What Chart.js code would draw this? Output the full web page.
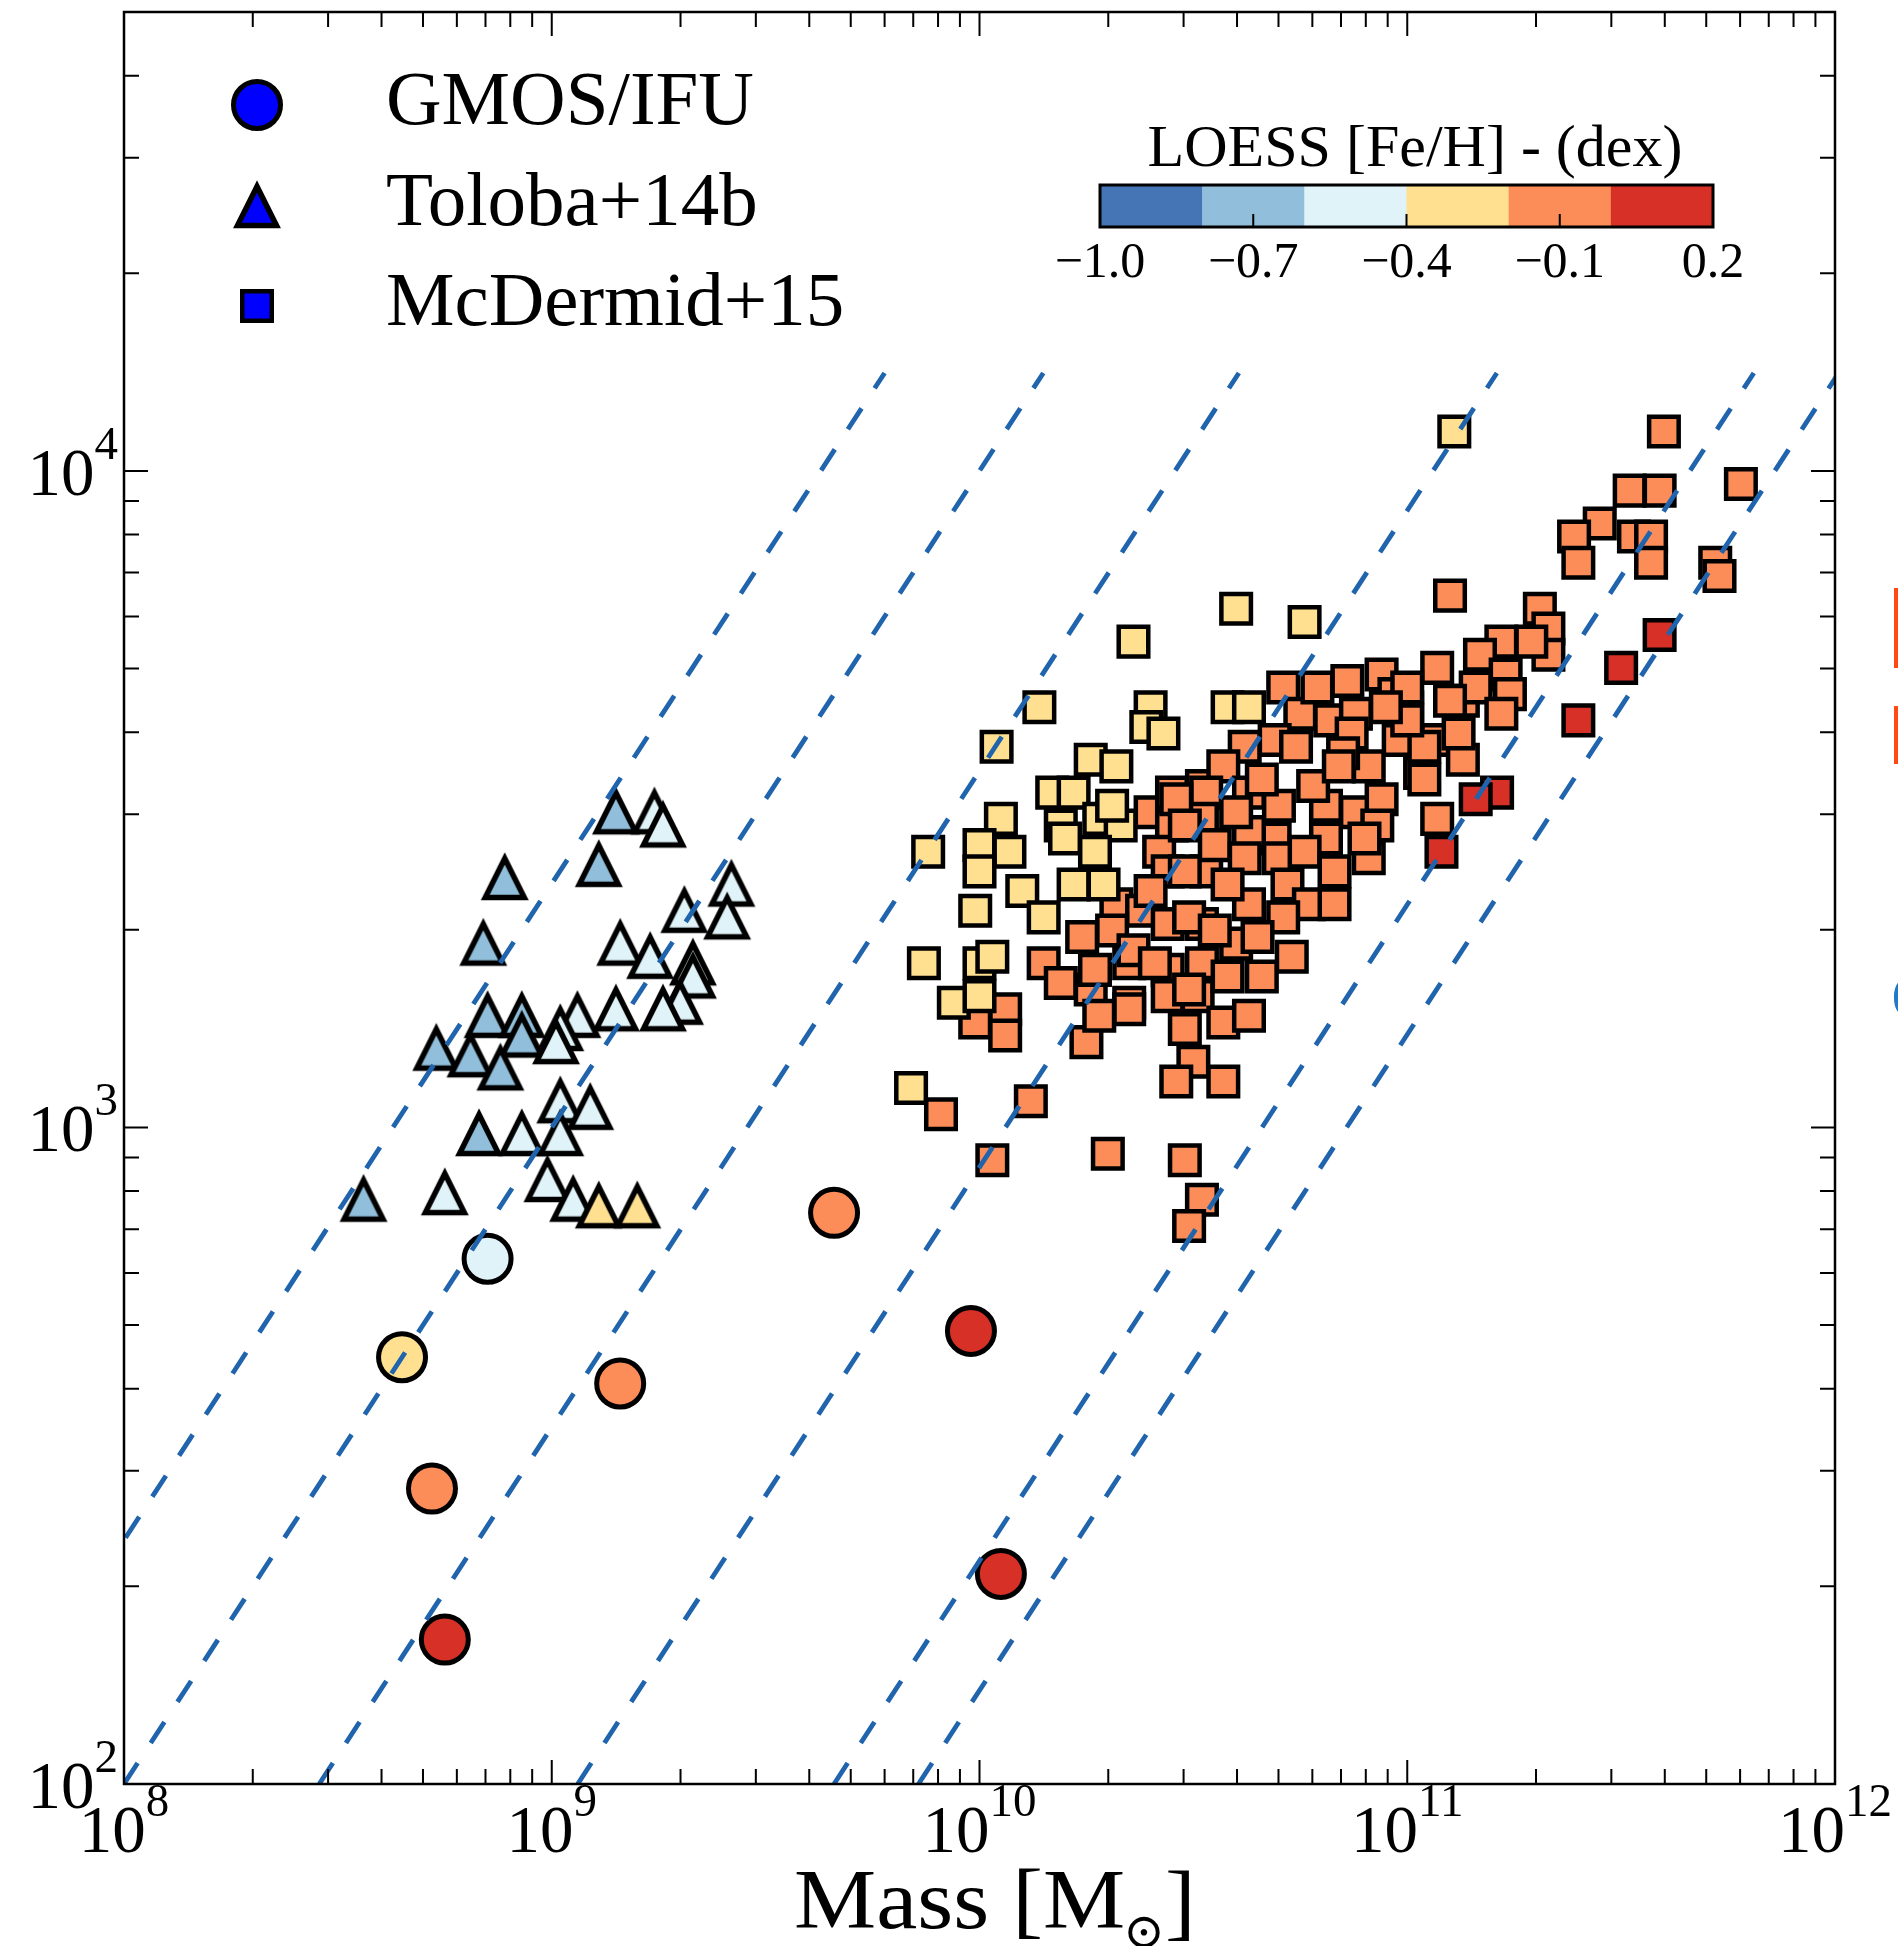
<!DOCTYPE html>
<html>
<head>
<meta charset="utf-8">
<script src="https://cdn.jsdelivr.net/npm/chart.js@4.4.0/dist/chart.umd.min.js"></script>
<style>
  html, body { margin: 0; padding: 0; background: #fff; }
</style>
</head>
<body>
<canvas id="chart" width="1898" height="1946"></canvas>
<script>
// values: log10(mass / Msun) and log10(size), plus LOESS [Fe/H]
const circLogM = [8.85, 8.65, 8.72, 8.75, 9.16, 9.66, 9.98, 10.05];
const circLogR = [2.80, 2.65, 2.45, 2.22, 2.61, 2.87, 2.69, 2.32];
const circFeh  = [-0.5, -0.3, -0.1, 0.1, -0.1, -0.1, 0.1, 0.1];

const triLogM = [9.15, 9.24, 9.26, 9.11, 8.89, 9.42, 8.84, 9.31, 9.41, 9.16, 9.23, 9.33, 9.33, 9.30, 9.26, 9.15, 9.06, 9.02,
                 8.85, 8.93, 8.93, 9.01, 8.73, 8.81, 8.88, 9.02, 9.09, 8.83, 8.93, 9.02, 8.99, 8.56, 8.75, 9.05, 9.11, 9.20];
const triLogR = [3.48, 3.48, 3.46, 3.40, 3.38, 3.37, 3.28, 3.33, 3.32, 3.28, 3.26, 3.25, 3.23, 3.19, 3.18, 3.18, 3.17, 3.15,
                 3.17, 3.17, 3.14, 3.13, 3.12, 3.11, 3.09, 3.04, 3.03, 2.99, 2.99, 2.99, 2.92, 2.89, 2.90, 2.89, 2.88, 2.88];
const triFeh  = [-0.7, -0.5, -0.5, -0.7, -0.7, -0.5, -0.7, -0.5, -0.5, -0.5, -0.5, -0.5, -0.5, -0.5, -0.5, -0.5, -0.5, -0.5,
                 -0.7, -0.7, -0.7, -0.5, -0.7, -0.7, -0.7, -0.5, -0.5, -0.7, -0.5, -0.5, -0.5, -0.7, -0.5, -0.5, -0.3, -0.3];

// McDermid+15 squares, grouped by colour bin
const sqOrangeLogM = [10.40, 10.45, 10.45, 10.52, 10.42, 10.44, 10.53, 10.32, 10.38, 10.44, 10.52, 10.31, 10.24, 10.15, 10.19, 10.26,
  10.35, 10.35, 10.44, 10.44, 10.52, 10.51, 10.06, 10.27, 9.99, 10.06, 9.91, 10.12, 10.25, 10.35, 10.28, 10.48, 10.50, 10.46,
  10.03, 10.30, 10.48, 10.52, 10.49, 10.71, 10.75, 10.69, 10.74, 10.62, 10.57, 10.86, 10.94, 10.97, 11.00, 10.82, 10.88, 10.87,
  10.98, 10.91, 11.03, 11.07, 11.13, 11.07, 11.13, 10.85, 10.53, 10.63, 10.70, 10.52, 10.46, 10.81, 10.88, 10.94, 10.81, 10.93,
  10.91, 11.07, 10.69, 10.63, 10.48, 10.55, 10.48, 10.62, 10.70, 10.76, 10.83, 10.72, 10.77, 10.83, 10.63, 10.71, 10.49, 10.60,
  10.73, 10.66, 10.58, 10.49, 10.57, 10.63, 10.57, 11.60, 11.52, 11.59, 11.78, 11.45, 11.39, 11.40, 11.53, 11.57, 11.57, 11.72,
  11.73, 11.10, 11.31, 11.33, 11.33, 11.29, 11.22, 11.17, 11.23, 11.16, 11.24, 11.12, 11.22, 11.10, 11.04, 11.04, 10.79, 11.00,
  10.40, 10.58, 10.66, 10.78, 10.90, 11.00, 10.36, 10.55, 10.65, 10.84, 10.95, 10.60, 10.41];
const sqOrangeLogR = [3.48, 3.46, 3.51, 3.52, 3.42, 3.39, 3.39, 3.34, 3.33, 3.31, 3.31, 3.30, 3.29, 3.25, 3.22, 3.21,
  3.25, 3.19, 3.24, 3.20, 3.25, 3.20, 3.18, 3.24, 3.16, 3.14, 3.02, 3.04, 3.13, 3.18, 3.17, 3.15, 3.10, 3.07,
  2.95, 2.96, 2.95, 2.89, 2.85, 3.67, 3.63, 3.59, 3.58, 3.58, 3.55, 3.68, 3.69, 3.66, 3.64, 3.62, 3.63, 3.60,
  3.59, 3.55, 3.54, 3.70, 3.65, 3.59, 3.56, 3.57, 3.51, 3.51, 3.49, 3.47, 3.50, 3.49, 3.48, 3.50, 3.44, 3.46,
  3.41, 3.47, 3.44, 3.45, 3.46, 3.43, 3.39, 3.41, 3.41, 3.42, 3.39, 3.37, 3.34, 3.34, 3.34, 3.32, 3.32, 3.28,
  3.26, 3.23, 3.23, 3.21, 3.16, 3.17, 3.07, 4.06, 3.97, 3.97, 3.98, 3.92, 3.90, 3.86, 3.90, 3.90, 3.86, 3.86,
  3.84, 3.81, 3.79, 3.76, 3.72, 3.74, 3.74, 3.72, 3.69, 3.67, 3.66, 3.60, 3.63, 3.65, 3.58, 3.53, 3.67, 3.67,
  3.36, 3.37, 3.53, 3.52, 3.44, 3.62, 3.27, 3.30, 3.29, 3.55, 3.64, 3.48, 3.25];
const sqYellowLogM = [10.36, 10.14, 10.04, 10.40, 10.39, 10.43, 9.88, 10.05, 10.00, 10.07, 10.00, 10.26, 10.32, 10.17, 10.22,
  10.19, 10.20, 10.28, 10.33, 10.31, 10.27, 10.29, 10.22, 10.10, 10.15, 9.99, 9.87, 10.00, 10.03, 9.94, 10.00, 9.84,
  10.60, 10.76, 10.58, 10.63, 11.11];
const sqYellowLogR = [3.74, 3.64, 3.58, 3.64, 3.61, 3.60, 3.42, 3.47, 3.43, 3.42, 3.39, 3.56, 3.55, 3.51, 3.51,
  3.46, 3.44, 3.47, 3.46, 3.49, 3.42, 3.37, 3.37, 3.36, 3.32, 3.33, 3.25, 3.25, 3.26, 3.19, 3.20, 3.06,
  3.79, 3.77, 3.64, 3.64, 4.06];
const sqRedLogM = [11.59, 11.50, 11.40, 11.21, 11.16, 11.08];
const sqRedLogR = [3.75, 3.70, 3.62, 3.51, 3.50, 3.42];
const sqOrangeFeh = -0.1, sqYellowFeh = -0.3, sqRedFeh = 0.1;

// dashed guide lines: mass at the bottom (size 100) and top (size 1.41e4) of each
const lineMassLow  = [4.25e7, 1.0e8, 2.86e8, 1.15e9, 4.57e9, 7.2e9];
const lineMassHigh = [6.0e9, 1.41e10, 4.04e10, 1.62e11, 6.46e11, 1.02e12];
const lineSizeLow = 100, lineSizeHigh = 1.41e4;

// colour bar
const fehBins = [-1.0, -0.8, -0.6, -0.4, -0.2, 0.0, 0.2];
const binColors = ['#4575b4', '#91bfdb', '#e0f3f8', '#fee090', '#fc8d59', '#d73027'];
const cbTicks = [-1.0, -0.7, -0.4, -0.1, 0.2];
const cbTickLabels = ['\u22121.0', '\u22120.7', '\u22120.4', '\u22120.1', '0.2'];

const xTickExps = [8, 9, 10, 11, 12];
const yTickExps = [2, 3, 4];
const legendLabels = ['GMOS/IFU', 'Toloba+14b', 'McDermid+15'];

const SERIF = '"Liberation Serif", "Times New Roman", serif';

function binIndex(v) {
  for (let i = 0; i < binColors.length; i++) {
    if (v >= fehBins[i] && v < fehBins[i + 1]) return i;
  }
  return binColors.length - 1;
}
const fehColor = v => binColors[binIndex(v)];

function triMarker(fill) {
  const c = document.createElement('canvas');
  c.width = 60; c.height = 60;
  const g = c.getContext('2d');
  g.beginPath();
  g.moveTo(30, 10.5); g.lineTo(10.5, 49.5); g.lineTo(49.5, 49.5); g.closePath();
  g.fillStyle = fill; g.fill();
  g.lineWidth = 5.5; g.lineJoin = 'miter'; g.strokeStyle = '#000'; g.stroke();
  return c;
}
const triMarkers = binColors.map(triMarker);

const toPts = (ms, rs) => ms.map((m, i) => ({ x: 10 ** m, y: 10 ** rs[i] }));

const lineSets = lineMassLow.map((m, i) => ({
  data: [{ x: m, y: lineSizeLow }, { x: lineMassHigh[i], y: lineSizeHigh }],
  showLine: true,
  borderColor: 'rgb(31,100,172)',
  borderWidth: 4.8,
  borderDash: [25, 24],
  pointRadius: 0,
  fill: false,
  order: 0
}));

function squareSet(ms, rs, feh, order) {
  return {
    data: toPts(ms, rs),
    pointStyle: 'rect',
    pointRadius: 20.9,
    pointBackgroundColor: fehColor(feh),
    pointBorderColor: '#000',
    pointBorderWidth: 4.5,
    order
  };
}

const datasets = [
  ...lineSets,
  {
    data: toPts(circLogM, circLogR),
    pointStyle: 'circle',
    pointRadius: 23.5,
    pointBackgroundColor: circFeh.map(fehColor),
    pointBorderColor: '#000',
    pointBorderWidth: 5,
    order: 1
  },
  {
    data: toPts(triLogM, triLogR),
    pointStyle: triFeh.map(v => triMarkers[binIndex(v)]),
    pointRadius: 24,
    order: 2
  },
  squareSet(sqRedLogM, sqRedLogR, sqRedFeh, 3),
  squareSet(sqYellowLogM, sqYellowLogR, sqYellowFeh, 4),
  squareSet(sqOrangeLogM, sqOrangeLogR, sqOrangeFeh, 5)
];

function drawPow(ctx, exp, x, y, align) {
  const base = '10', sup = String(exp);
  ctx.font = '67px ' + SERIF;
  const wb = ctx.measureText(base).width;
  ctx.font = '47px ' + SERIF;
  const ws = ctx.measureText(sup).width;
  const left = align === 'center' ? x - (wb + ws) / 2 : x - wb - ws;
  ctx.font = '67px ' + SERIF;
  ctx.fillText(base, left, y);
  ctx.font = '47px ' + SERIF;
  ctx.fillText(sup, left + wb, y - 36);
}

// draw text stretched horizontally to a target width
function fillWide(ctx, text, x, y, width) {
  const w = ctx.measureText(text).width;
  ctx.save();
  ctx.translate(x, y);
  ctx.scale(width / w, 1);
  ctx.fillText(text, 0, 0);
  ctx.restore();
}

const decor = {
  id: 'decor',
  afterDraw(chart) {
    const { ctx, chartArea: a, scales: { x, y } } = chart;
    ctx.save();
    ctx.fillStyle = '#000';
    ctx.strokeStyle = '#000';

    // inward ticks on all four sides
    ctx.lineWidth = 2;
    ctx.beginPath();
    for (let e = 8; e < 12; e++) {
      for (let k = 1; k < 10; k++) {
        const px = x.getPixelForValue(k * 10 ** e);
        const len = k === 1 ? 24 : 15;
        ctx.moveTo(px, a.bottom); ctx.lineTo(px, a.bottom - len);
        ctx.moveTo(px, a.top); ctx.lineTo(px, a.top + len);
      }
    }
    for (let e = 2; e < 5; e++) {
      for (let k = 1; k < 10; k++) {
        const v = k * 10 ** e;
        if (v > y.max) break;
        const py = y.getPixelForValue(v);
        const len = k === 1 ? 24 : 15;
        ctx.moveTo(a.left, py); ctx.lineTo(a.left + len, py);
        ctx.moveTo(a.right, py); ctx.lineTo(a.right - len, py);
      }
    }
    ctx.stroke();

    ctx.lineWidth = 2.5;
    ctx.strokeRect(a.left, a.top, a.right - a.left, a.bottom - a.top);

    // tick labels
    ctx.textBaseline = 'alphabetic';
    ctx.textAlign = 'left';
    xTickExps.forEach(e => drawPow(ctx, e, x.getPixelForValue(10 ** e), a.bottom + 68, 'center'));
    yTickExps.forEach(e => drawPow(ctx, e, a.left - 6, y.getPixelForValue(10 ** e) + 24, 'right'));

    // x title: Mass [M_sun]
    ctx.font = '84px ' + SERIF;
    const t1 = 'Mass [M', t3 = ']';
    const w1 = ctx.measureText(t1).width * 1.1, w3 = ctx.measureText(t3).width * 1.1;
    ctx.font = '50px "DejaVu Serif"';
    const w2 = ctx.measureText('\u2299').width;
    const sx = 794;
    ctx.font = '84px ' + SERIF;
    fillWide(ctx, t1, sx, 1928, w1);
    ctx.font = '50px "DejaVu Serif"';
    ctx.fillText('\u2299', sx + w1 - 2, 1948);
    ctx.font = '84px ' + SERIF;
    fillWide(ctx, t3, sx + w1 + w2 - 2, 1930, w3);

    // legend
    const lx = 257, ly = [105, 206, 306];
    ctx.fillStyle = '#0000ff';
    ctx.lineWidth = 5;
    ctx.beginPath(); ctx.arc(lx, ly[0], 23.5, 0, Math.PI * 2); ctx.fill(); ctx.stroke();
    ctx.drawImage(triMarker('#0000ff'), lx - 30, ly[1] - 30);
    ctx.lineWidth = 4.5;
    ctx.fillRect(lx - 14.75, ly[2] - 14.75, 29.5, 29.5);
    ctx.strokeRect(lx - 14.75, ly[2] - 14.75, 29.5, 29.5);
    ctx.fillStyle = '#000';
    ctx.font = '77px ' + SERIF;
    legendLabels.forEach((t, i) => ctx.fillText(t, 386, ly[i] + 19));

    // colour bar
    const cb = { l: 1100, r: 1713, t: 185, b: 227 };
    const fx = v => cb.l + (v - fehBins[0]) / (fehBins[fehBins.length - 1] - fehBins[0]) * (cb.r - cb.l);
    binColors.forEach((c, i) => {
      ctx.fillStyle = c;
      ctx.fillRect(fx(fehBins[i]), cb.t, fx(fehBins[i + 1]) - fx(fehBins[i]) + 0.5, cb.b - cb.t);
    });
    ctx.strokeStyle = '#000';
    ctx.lineWidth = 3;
    ctx.strokeRect(cb.l, cb.t, cb.r - cb.l, cb.b - cb.t);
    ctx.lineWidth = 2;
    ctx.beginPath();
    cbTicks.forEach(v => { ctx.moveTo(fx(v), cb.b); ctx.lineTo(fx(v), cb.b - 13); });
    ctx.stroke();
    ctx.fillStyle = '#000';
    ctx.textAlign = 'center';
    ctx.font = '50px ' + SERIF;
    cbTicks.forEach((v, i) => ctx.fillText(cbTickLabels[i], fx(v), 277));
    ctx.font = '60px ' + SERIF;
    ctx.fillText('LOESS [Fe/H] - (dex)', 1415, 166);

    // page fragments cut by the screenshot edge
    ctx.fillStyle = '#ff4a14';
    ctx.fillRect(1894, 588, 6, 80);
    ctx.fillRect(1894, 706, 6, 58);
    ctx.fillStyle = '#1f7ac8';
    ctx.textAlign = 'left';
    ctx.font = '44px ' + SERIF;
    ctx.fillText('(', 1892, 1008);
    ctx.restore();
  }
};

new Chart(document.getElementById('chart'), {
  type: 'scatter',
  data: { datasets },
  options: {
    responsive: false,
    devicePixelRatio: 1,
    animation: false,
    events: [],
    layout: { autoPadding: false, padding: { left: 124, right: 63, top: 12, bottom: 162 } },
    plugins: { legend: { display: false }, tooltip: { enabled: false } },
    scales: {
      x: { type: 'logarithmic', min: 1e8, max: 1e12, display: false },
      y: { type: 'logarithmic', min: 100, max: 5e4, display: false }
    }
  },
  plugins: [decor]
});
</script>
</body>
</html>
